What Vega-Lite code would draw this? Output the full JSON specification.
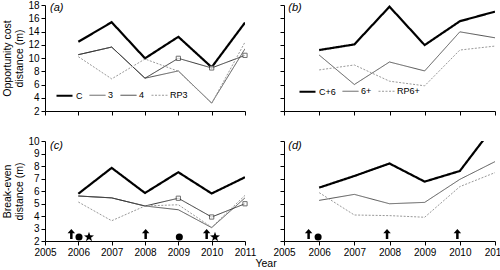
{
  "$schema": "https://vega.github.io/schema/vega-lite/v6.json",
  "background": "white",
  "padding": {"left": 2, "top": 0, "right": 0, "bottom": 2},
  "title": {"text": "Year", "orient": "bottom", "anchor": "middle", "fontSize": 10.5, "fontWeight": "normal", "font": "Liberation Sans", "color": "black", "offset": 2, "dx": 12},
  "datasets": {
    "a": [
      {"series": "C", "year": 2006, "value": 12.45}, {"series": "C", "year": 2007, "value": 15.4}, {"series": "C", "year": 2008, "value": 9.95}, {"series": "C", "year": 2009, "value": 13.2}, {"series": "C", "year": 2010, "value": 8.6}, {"series": "C", "year": 2011, "value": 15.35},
      {"series": "3", "year": 2006, "value": 10.5}, {"series": "3", "year": 2007, "value": 11.65}, {"series": "3", "year": 2008, "value": 6.95}, {"series": "3", "year": 2009, "value": 8.05}, {"series": "3", "year": 2010, "value": 3.2}, {"series": "3", "year": 2011, "value": 11.4},
      {"series": "4", "year": 2006, "value": 10.5}, {"series": "4", "year": 2007, "value": 11.65}, {"series": "4", "year": 2008, "value": 6.95}, {"series": "4", "year": 2009, "value": 9.95}, {"series": "4", "year": 2010, "value": 8.5}, {"series": "4", "year": 2011, "value": 10.4},
      {"series": "RP3", "year": 2006, "value": 10.2}, {"series": "RP3", "year": 2007, "value": 6.85}, {"series": "RP3", "year": 2008, "value": 9.85}, {"series": "RP3", "year": 2009, "value": 8.0}, {"series": "RP3", "year": 2010, "value": 3.15}, {"series": "RP3", "year": 2011, "value": 12.4}
    ],
    "b": [
      {"series": "C+6", "year": 2006, "value": 11.2}, {"series": "C+6", "year": 2007, "value": 12.05}, {"series": "C+6", "year": 2008, "value": 17.75}, {"series": "C+6", "year": 2009, "value": 11.95}, {"series": "C+6", "year": 2010, "value": 15.55}, {"series": "C+6", "year": 2011, "value": 17.0},
      {"series": "6+", "year": 2006, "value": 10.45}, {"series": "6+", "year": 2007, "value": 6.0}, {"series": "6+", "year": 2008, "value": 9.4}, {"series": "6+", "year": 2009, "value": 8.05}, {"series": "6+", "year": 2010, "value": 13.95}, {"series": "6+", "year": 2011, "value": 13.05},
      {"series": "RP6+", "year": 2006, "value": 8.2}, {"series": "RP6+", "year": 2007, "value": 8.95}, {"series": "RP6+", "year": 2008, "value": 6.5}, {"series": "RP6+", "year": 2009, "value": 5.8}, {"series": "RP6+", "year": 2010, "value": 11.2}, {"series": "RP6+", "year": 2011, "value": 11.8}
    ],
    "c": [
      {"series": "C", "year": 2006, "value": 5.78}, {"series": "C", "year": 2007, "value": 7.85}, {"series": "C", "year": 2008, "value": 5.84}, {"series": "C", "year": 2009, "value": 7.5}, {"series": "C", "year": 2010, "value": 5.8}, {"series": "C", "year": 2011, "value": 7.1},
      {"series": "3", "year": 2006, "value": 5.6}, {"series": "3", "year": 2007, "value": 5.45}, {"series": "3", "year": 2008, "value": 4.8}, {"series": "3", "year": 2009, "value": 4.5}, {"series": "3", "year": 2010, "value": 3.07}, {"series": "3", "year": 2011, "value": 5.45},
      {"series": "4", "year": 2006, "value": 5.6}, {"series": "4", "year": 2007, "value": 5.45}, {"series": "4", "year": 2008, "value": 4.8}, {"series": "4", "year": 2009, "value": 5.42}, {"series": "4", "year": 2010, "value": 3.92}, {"series": "4", "year": 2011, "value": 4.98},
      {"series": "RP3", "year": 2006, "value": 5.12}, {"series": "RP3", "year": 2007, "value": 3.62}, {"series": "RP3", "year": 2008, "value": 4.8}, {"series": "RP3", "year": 2009, "value": 4.9}, {"series": "RP3", "year": 2010, "value": 3.1}, {"series": "RP3", "year": 2011, "value": 5.65}
    ],
    "d": [
      {"series": "C+6", "year": 2006, "value": 6.27}, {"series": "C+6", "year": 2007, "value": 7.2}, {"series": "C+6", "year": 2008, "value": 8.2}, {"series": "C+6", "year": 2009, "value": 6.75}, {"series": "C+6", "year": 2010, "value": 7.6}, {"series": "C+6", "year": 2011, "value": 11.3},
      {"series": "6+", "year": 2006, "value": 5.25}, {"series": "6+", "year": 2007, "value": 5.73}, {"series": "6+", "year": 2008, "value": 4.98}, {"series": "6+", "year": 2009, "value": 5.09}, {"series": "6+", "year": 2010, "value": 6.93}, {"series": "6+", "year": 2011, "value": 8.35},
      {"series": "RP6+", "year": 2006, "value": 5.87}, {"series": "RP6+", "year": 2007, "value": 4.08}, {"series": "RP6+", "year": 2008, "value": 4.03}, {"series": "RP6+", "year": 2009, "value": 3.9}, {"series": "RP6+", "year": 2010, "value": 6.35}, {"series": "RP6+", "year": 2011, "value": 7.47}
    ],
    "mc": [
      {"sym": "arrow", "year": 2005.79, "value": 2.56}, {"sym": "circle", "year": 2006.02, "value": 2.32}, {"sym": "star", "year": 2006.32, "value": 2.32},
      {"sym": "arrow", "year": 2008.02, "value": 2.56}, {"sym": "circle", "year": 2009.03, "value": 2.32},
      {"sym": "arrow", "year": 2009.85, "value": 2.56}, {"sym": "star", "year": 2010.1, "value": 2.32}
    ],
    "md": [
      {"sym": "arrow", "year": 2005.7, "value": 2.56}, {"sym": "circle", "year": 2005.97, "value": 2.32},
      {"sym": "arrow", "year": 2007.93, "value": 2.56}, {"sym": "arrow", "year": 2009.93, "value": 2.56}
    ]
  },
  "columns": 2,
  "spacing": {"row": 30, "column": 39},
  "bounds": "flush",
  "resolve": {"scale": {"x": "independent", "y": "independent", "color": "independent", "strokeWidth": "independent", "strokeDash": "independent", "shape": "independent", "size": "independent"}, "legend": {"color": "independent", "strokeWidth": "independent", "strokeDash": "independent", "shape": "independent", "size": "independent"}},
  "concat": [
    {
      "width": 200, "height": 106,
      "encoding": {
        "x": {"field": "year", "type": "quantitative", "scale": {"domain": [2005, 2011], "nice": false, "zero": false}, "axis": {"values": [2005, 2006, 2007, 2008, 2009, 2010, 2011], "labels": false, "title": null, "labelOverlap": false, "labelFlush": false}},
        "y": {"field": "value", "type": "quantitative", "scale": {"domain": [2, 18], "nice": false, "zero": false}, "axis": {"values": [2, 4, 6, 8, 10, 12, 14, 16, 18], "labelOverlap": false, "labelFlush": false, "title": ["Opportunity cost", "distance (m)"]}}
      },
      "layer": [
        {
          "data": {"name": "a"},
          "mark": {"type": "line", "clip": true},
          "encoding": {
            "color": {"field": "series", "type": "nominal", "scale": {"domain": ["C", "3", "4", "RP3"], "range": ["#000000", "#555555", "#333333", "#999999"]}, "legend": {"orient": "bottom-left", "direction": "horizontal", "title": null, "offset": 10}},
            "strokeWidth": {"field": "series", "type": "nominal", "scale": {"type": "ordinal", "domain": ["C", "3", "4", "RP3"], "range": [2.2, 1, 1, 1]}, "legend": {"orient": "bottom-left", "direction": "horizontal", "title": null, "offset": 10}},
            "strokeDash": {"field": "series", "type": "nominal", "scale": {"domain": ["C", "3", "4", "RP3"], "range": [[1, 0], [1, 0], [1, 0], [2, 1.5]]}, "legend": {"orient": "bottom-left", "direction": "horizontal", "title": null, "offset": 10}}
          }
        },
        {
          "data": {"name": "a"},
          "transform": [{"filter": "datum.series == '4' && datum.year >= 2009"}],
          "mark": {"type": "point", "shape": "square", "filled": true, "fill": "white", "stroke": "#333333", "strokeWidth": 1, "size": 18}
        },
        {
          "data": {"values": [{"label": "(a)", "year": 2005.15, "value": 17.6}]},
          "mark": {"type": "text", "align": "left", "baseline": "middle", "fontStyle": "italic", "fontSize": 11, "color": "black"},
          "encoding": {"text": {"field": "label"}}
        }
      ]
    },
    {
      "width": 211, "height": 106,
      "encoding": {
        "x": {"field": "year", "type": "quantitative", "scale": {"domain": [2005, 2011], "nice": false, "zero": false}, "axis": {"values": [2005, 2006, 2007, 2008, 2009, 2010, 2011], "labels": false, "title": null, "labelOverlap": false, "labelFlush": false}},
        "y": {"field": "value", "type": "quantitative", "scale": {"domain": [2, 18], "nice": false, "zero": false}, "axis": {"values": [2, 4, 6, 8, 10, 12, 14, 16, 18], "labels": false, "title": null, "labelOverlap": false, "labelFlush": false}}
      },
      "layer": [
        {
          "data": {"name": "b"},
          "mark": {"type": "line", "clip": true},
          "encoding": {
            "color": {"field": "series", "type": "nominal", "scale": {"domain": ["C+6", "6+", "RP6+"], "range": ["#000000", "#555555", "#999999"]}, "legend": {"orient": "bottom-left", "direction": "horizontal", "title": null, "offset": 14}},
            "strokeWidth": {"field": "series", "type": "nominal", "scale": {"type": "ordinal", "domain": ["C+6", "6+", "RP6+"], "range": [2.2, 1, 1]}, "legend": {"orient": "bottom-left", "direction": "horizontal", "title": null, "offset": 14}},
            "strokeDash": {"field": "series", "type": "nominal", "scale": {"domain": ["C+6", "6+", "RP6+"], "range": [[1, 0], [1, 0], [2, 1.5]]}, "legend": {"orient": "bottom-left", "direction": "horizontal", "title": null, "offset": 14}}
          }
        },
        {
          "data": {"values": [{"label": "(b)", "year": 2005.12, "value": 17.6}]},
          "mark": {"type": "text", "align": "left", "baseline": "middle", "fontStyle": "italic", "fontSize": 11, "color": "black"},
          "encoding": {"text": {"field": "label"}}
        }
      ]
    },
    {
      "width": 200, "height": 100,
      "encoding": {
        "x": {"field": "year", "type": "quantitative", "scale": {"domain": [2005, 2011], "nice": false, "zero": false}, "axis": {"values": [2005, 2006, 2007, 2008, 2009, 2010, 2011], "format": "d", "title": null, "labelOverlap": false, "labelFlush": false}},
        "y": {"field": "value", "type": "quantitative", "scale": {"domain": [2, 10], "nice": false, "zero": false}, "axis": {"values": [2, 3, 4, 5, 6, 7, 8, 9, 10], "labelOverlap": false, "labelFlush": false, "title": ["Break-even", "distance (m)"]}}
      },
      "layer": [
        {
          "data": {"name": "c"},
          "mark": {"type": "line", "clip": true},
          "encoding": {
            "color": {"field": "series", "type": "nominal", "scale": {"domain": ["C", "3", "4", "RP3"], "range": ["#000000", "#555555", "#333333", "#999999"]}, "legend": null},
            "strokeWidth": {"field": "series", "type": "nominal", "scale": {"type": "ordinal", "domain": ["C", "3", "4", "RP3"], "range": [2.2, 1, 1, 1]}, "legend": null},
            "strokeDash": {"field": "series", "type": "nominal", "scale": {"domain": ["C", "3", "4", "RP3"], "range": [[1, 0], [1, 0], [1, 0], [2, 1.5]]}, "legend": null}
          }
        },
        {
          "data": {"name": "c"},
          "transform": [{"filter": "datum.series == '4' && datum.year >= 2009"}],
          "mark": {"type": "point", "shape": "square", "filled": true, "fill": "white", "stroke": "#333333", "strokeWidth": 1, "size": 18}
        },
        {
          "data": {"name": "mc"},
          "mark": {"type": "point", "filled": true, "color": "black", "opacity": 1},
          "encoding": {
            "size": {"field": "sym", "type": "nominal", "legend": null, "scale": {"type": "ordinal", "domain": ["arrow", "circle", "star"], "range": [100, 50, 110]}},
            "shape": {"field": "sym", "type": "nominal", "legend": null, "scale": {"domain": ["arrow", "circle", "star"], "range": ["M0,-1L0.75,-0.15L0.25,-0.15L0.25,1L-0.25,1L-0.25,-0.15L-0.75,-0.15Z", "circle", "M0,-1L0.235,-0.324L0.951,-0.309L0.38,0.124L0.588,0.809L0,0.4L-0.588,0.809L-0.38,0.124L-0.951,-0.309L-0.235,-0.324Z"]}}
          }
        },
        {
          "data": {"values": [{"label": "(c)", "year": 2005.15, "value": 9.6}]},
          "mark": {"type": "text", "align": "left", "baseline": "middle", "fontStyle": "italic", "fontSize": 11, "color": "black"},
          "encoding": {"text": {"field": "label"}}
        }
      ]
    },
    {
      "width": 211, "height": 100,
      "encoding": {
        "x": {"field": "year", "type": "quantitative", "scale": {"domain": [2005, 2011], "nice": false, "zero": false}, "axis": {"values": [2005, 2006, 2007, 2008, 2009, 2010, 2011], "format": "d", "title": null, "labelOverlap": false, "labelFlush": false}},
        "y": {"field": "value", "type": "quantitative", "scale": {"domain": [2, 10], "nice": false, "zero": false}, "axis": {"values": [2, 3, 4, 5, 6, 7, 8, 9, 10], "labels": false, "title": null, "labelOverlap": false, "labelFlush": false}}
      },
      "layer": [
        {
          "data": {"name": "d"},
          "mark": {"type": "line", "clip": true},
          "encoding": {
            "color": {"field": "series", "type": "nominal", "scale": {"domain": ["C+6", "6+", "RP6+"], "range": ["#000000", "#555555", "#999999"]}, "legend": null},
            "strokeWidth": {"field": "series", "type": "nominal", "scale": {"type": "ordinal", "domain": ["C+6", "6+", "RP6+"], "range": [2.2, 1, 1]}, "legend": null},
            "strokeDash": {"field": "series", "type": "nominal", "scale": {"domain": ["C+6", "6+", "RP6+"], "range": [[1, 0], [1, 0], [2, 1.5]]}, "legend": null}
          }
        },
        {
          "data": {"name": "md"},
          "mark": {"type": "point", "filled": true, "color": "black", "opacity": 1},
          "encoding": {
            "size": {"field": "sym", "type": "nominal", "legend": null, "scale": {"type": "ordinal", "domain": ["arrow", "circle", "star"], "range": [100, 50, 110]}},
            "shape": {"field": "sym", "type": "nominal", "legend": null, "scale": {"domain": ["arrow", "circle", "star"], "range": ["M0,-1L0.75,-0.15L0.25,-0.15L0.25,1L-0.25,1L-0.25,-0.15L-0.75,-0.15Z", "circle", "M0,-1L0.235,-0.324L0.951,-0.309L0.38,0.124L0.588,0.809L0,0.4L-0.588,0.809L-0.38,0.124L-0.951,-0.309L-0.235,-0.324Z"]}}
          }
        },
        {
          "data": {"values": [{"label": "(d)", "year": 2005.12, "value": 9.6}]},
          "mark": {"type": "text", "align": "left", "baseline": "middle", "fontStyle": "italic", "fontSize": 11, "color": "black"},
          "encoding": {"text": {"field": "label"}}
        }
      ]
    }
  ],
  "config": {
    "font": "Liberation Sans",
    "view": {"stroke": null},
    "axis": {"grid": false, "domainColor": "#000000", "domainWidth": 1, "tickColor": "#000000", "tickSize": 4, "labelFontSize": 10, "labelColor": "#000000", "labelFont": "Liberation Sans", "labelOverlap": false, "labelFlush": false, "titleFont": "Liberation Sans", "titleFontSize": 10.5, "titleFontWeight": "normal", "titleColor": "#000000", "labelPadding": 2, "titlePadding": 3},
    "legend": {"symbolType": "stroke", "symbolSize": 256, "labelFontSize": 9, "labelColor": "#000000", "labelFont": "Liberation Sans", "labelOffset": 2, "columnPadding": 4, "padding": 0, "symbolStrokeColor": null}
  }
}
